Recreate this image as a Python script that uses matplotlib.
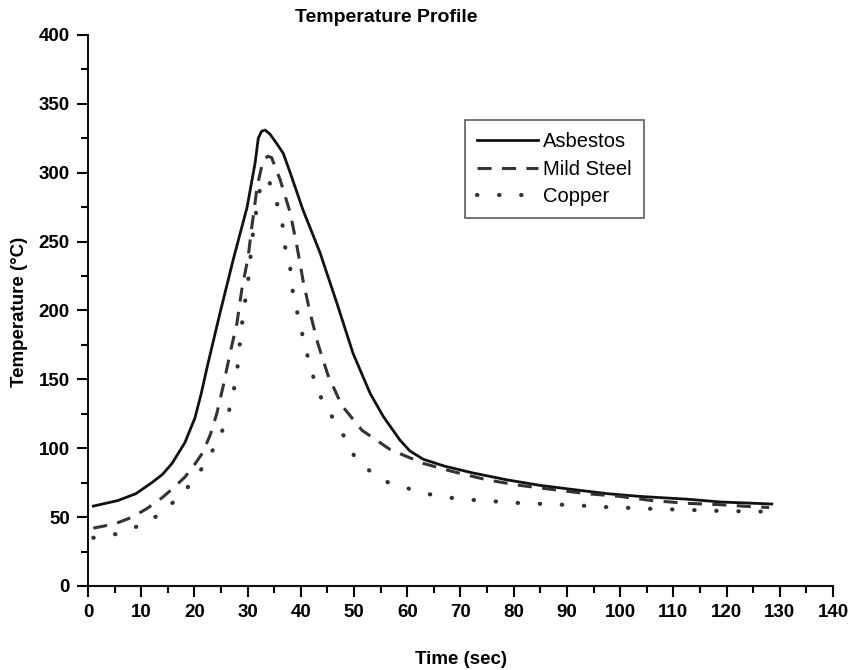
import numpy as np
import matplotlib
matplotlib.use("Agg")
from matplotlib import pyplot as plt
from matplotlib.ticker import MultipleLocator

plt.rcParams['font.family'] = ['Liberation Sans', 'DejaVu Sans']

# readings from the reference figure
asb_t = [1, 5.6, 9, 12, 14, 15.8, 18.2, 20.1, 21.3, 22.4, 24.8, 27.3, 29.9, 31.4, 32,
         32.6, 33.3, 34.2, 35.5, 36.7, 38, 40.4, 43.6, 46.8, 49.8, 53, 55.5, 58.6,
         60.5, 63, 67, 72.4, 78.8, 85, 91.2, 97.6, 103.8, 112.6, 118.8, 128.5]
asb_T = [58, 62, 67, 75, 81, 89, 104, 122, 140, 159, 198, 237, 275, 307, 325,
         330, 331, 328, 321, 314, 300, 273, 242, 205, 169, 140, 123, 106,
         98, 92, 87, 82, 77, 73, 70, 67, 65, 63, 61, 59.5]

mst_t = [1, 5, 8.3, 11, 13.9, 16, 18.2, 20, 21.6, 23, 24.2, 25.4, 26.7, 28, 28.9, 30.1,
         30.8, 31.8, 32.9, 33.8, 34.5, 36.1, 38, 39.3, 40.4, 41.7, 43.2, 45.1, 47.7,
         51.5, 56.8, 63, 68.6, 75, 81.2, 87.4, 93.8, 100, 106, 112.6, 118.8, 125, 128]
mst_T = [42, 45, 50, 56, 64, 71, 79, 88, 97, 110, 125, 145, 169, 191, 215, 239,
         261, 290, 309, 312, 311, 295, 271, 246, 222, 199, 176, 153, 131,
         113, 99, 89, 83, 77, 73, 70, 67, 65, 62, 60, 59, 57.5, 57]

cu_t = [1, 4.7, 7.5, 10.7, 13, 15.8, 18.6, 20.7, 22.6, 24.4, 25.8, 26.7, 27.3, 28,
        28.4, 28.9, 29.5, 30.1, 31, 32, 32.6, 33.8, 35.2, 36.5, 37, 38, 38.5, 39.3,
        40.2, 41.2, 42.1, 43.2, 44.9, 46.8, 48.7, 50.2, 53.4, 55.8, 59.2, 62.4, 66.2,
        70.3, 74, 78, 82, 86.3, 90.2, 94.4, 98.5, 102.8, 106, 110.7, 114.7, 118.8,
        123, 127]
cu_T = [35, 37, 41, 45, 51, 60, 71, 81, 93, 105, 118, 130, 140, 155,
        171, 189, 206, 222, 256, 282, 293, 296, 282, 264, 247, 231, 213, 199,
        184, 168, 155, 141, 129, 117, 105, 93, 82, 76, 72, 68, 65,
        63, 62, 61, 60, 59.5, 58.8, 58, 57, 56.6, 56, 55.5, 55, 54.5,
        54.2, 54]

fig = plt.figure(figsize=(8.6, 6.7), dpi=100)
ax = fig.add_axes([0.1023, 0.1254, 0.8663, 0.8224])

ax.plot(asb_t, asb_T, color='#111111', lw=2.0, label='Asbestos')
ax.plot(mst_t, mst_T, color='#333333', lw=2.2, linestyle=(0, (4.6, 3.4)),
        label='Mild Steel')
ax.plot(cu_t, cu_T, color='#333333', lw=3.0, linestyle=(0, (0.1, 5.2)),
        dash_capstyle='round', label='Copper')

ax.set_xlim(0, 140)
ax.set_ylim(0, 400)
ax.xaxis.set_major_locator(MultipleLocator(10))
ax.xaxis.set_minor_locator(MultipleLocator(5))
ax.yaxis.set_major_locator(MultipleLocator(50))
ax.yaxis.set_minor_locator(MultipleLocator(25))

for s in ['top', 'right']:
    ax.spines[s].set_visible(False)
for s in ['left', 'bottom']:
    ax.spines[s].set_linewidth(1.5)
    ax.spines[s].set_color('#111111')

ax.tick_params(which='major', length=8, width=1.5, pad=5, labelsize=13.5)
ax.tick_params(which='minor', length=5, width=1.5)
for lab in ax.get_xticklabels() + ax.get_yticklabels():
    lab.set_fontweight('bold')

fig.text(386 / 860, 1 - 18 / 670, 'Temperature Profile', ha='center', va='center',
         fontsize=14, fontweight='bold')
fig.text(461 / 860, 1 - 660 / 670, 'Time (sec)', ha='center', va='center',
         fontsize=13.5, fontweight='bold')
fig.text(20 / 860, 1 - 312 / 670, 'Temperature (\u00b0C)', ha='center', va='center',
         rotation=90, fontsize=13.5, fontweight='bold')

leg = ax.legend(loc='upper left', bbox_to_anchor=(0.5065, 0.8455), fontsize=14.5,
                frameon=True, fancybox=False, handlelength=3.0, handletextpad=0.25,
                borderpad=0.6, labelspacing=0.42, borderaxespad=0)
leg.get_frame().set_edgecolor('#333333')
leg.get_frame().set_linewidth(1.2)

fig.savefig('out.png', dpi=100)
